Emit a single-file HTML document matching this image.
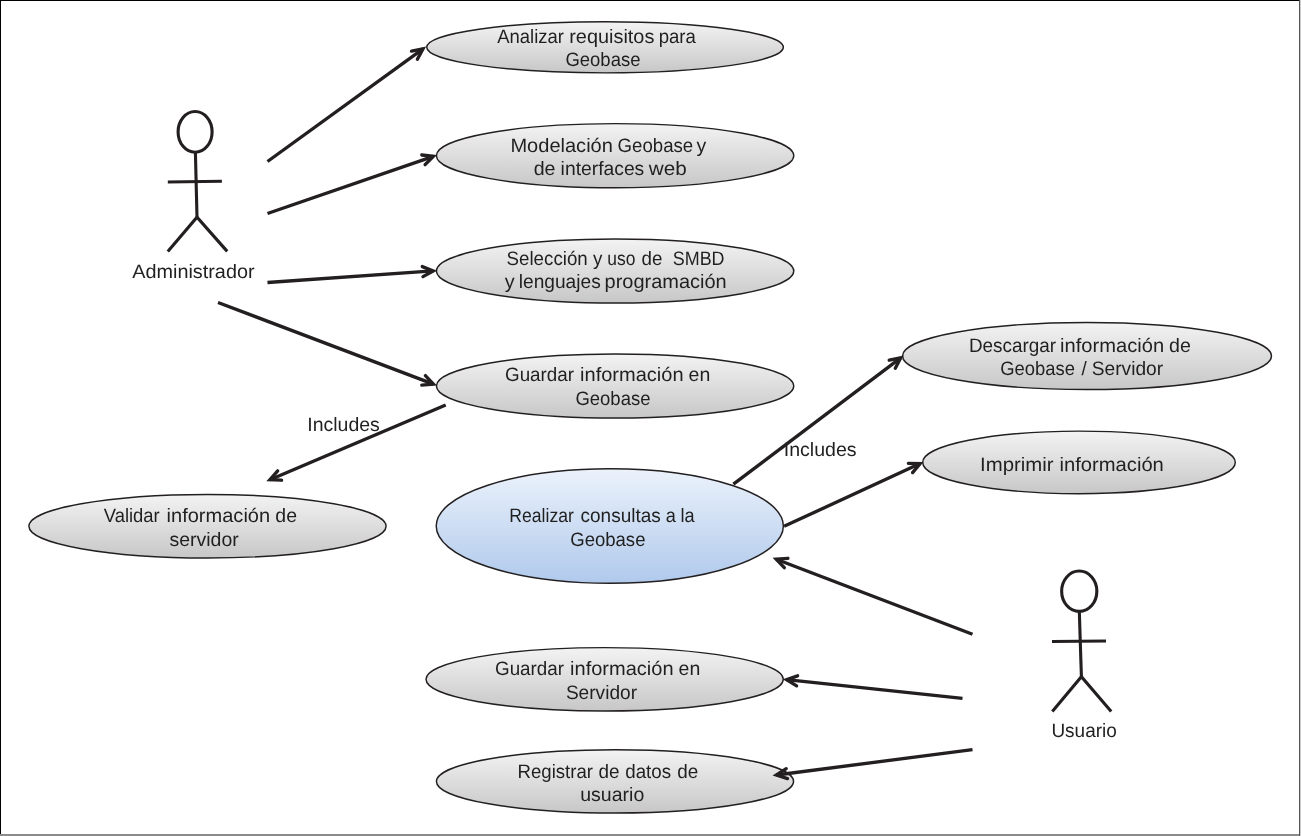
<!DOCTYPE html>
<html lang="es">
<head>
<meta charset="utf-8">
<title>Diagrama de casos de uso</title>
<style>
html,body{margin:0;padding:0;background:#fff;}
body{width:1301px;height:836px;overflow:hidden;position:relative;font-family:"Liberation Sans",sans-serif;}
svg{position:absolute;left:0;top:0;display:block;}
text{font-family:"Liberation Sans",sans-serif;font-size:19.4px;fill:#231f20;text-rendering:geometricPrecision;}
</style>
</head>
<body>
<svg width="1301" height="836" viewBox="0 0 1301 836">
<defs>
<linearGradient id="gg" x1="0" y1="0" x2="0" y2="1"><stop offset="0" stop-color="#f3f3f3"/><stop offset="1" stop-color="#c7c7c7"/></linearGradient>
<linearGradient id="gb" x1="0" y1="0" x2="0" y2="1"><stop offset="0" stop-color="#ebf2fb"/><stop offset="1" stop-color="#b0c9ec"/></linearGradient>
</defs>
<rect x="0" y="0" width="1301" height="836" fill="#fff"/>

<!-- frame -->
<rect x="0" y="0" width="1301" height="1" fill="#000"/>
<rect x="0" y="0" width="1" height="835" fill="#000"/>
<rect x="0" y="834" width="1301" height="2" fill="#8c8c8c"/>
<rect x="1299" y="0" width="1" height="836" fill="#555"/>
<rect x="1300" y="0" width="1" height="836" fill="#ccc"/>
<!-- use cases -->
<ellipse cx="605.05" cy="47.3" rx="178.33" ry="25.58" fill="url(#gg)" stroke="#231f20" stroke-width="1.45"/>
<ellipse cx="615.1" cy="155.7" rx="178.68" ry="32.08" fill="url(#gg)" stroke="#231f20" stroke-width="1.45"/>
<ellipse cx="615.1" cy="271.0" rx="178.68" ry="32.08" fill="url(#gg)" stroke="#231f20" stroke-width="1.45"/>
<ellipse cx="615.1" cy="386.0" rx="178.68" ry="32.08" fill="url(#gg)" stroke="#231f20" stroke-width="1.45"/>
<ellipse cx="207.5" cy="526.2" rx="178.58" ry="31.78" fill="url(#gg)" stroke="#231f20" stroke-width="1.45"/>
<ellipse cx="609.8" cy="526.0" rx="173.58" ry="57.28" fill="url(#gb)" stroke="#231f20" stroke-width="1.45"/>
<ellipse cx="1087.0" cy="356.0" rx="184.48" ry="33.58" fill="url(#gg)" stroke="#231f20" stroke-width="1.45"/>
<ellipse cx="1079.0" cy="462.4" rx="156.28" ry="31.28" fill="url(#gg)" stroke="#231f20" stroke-width="1.45"/>
<ellipse cx="604.65" cy="679.3" rx="178.63" ry="31.68" fill="url(#gg)" stroke="#231f20" stroke-width="1.45"/>
<ellipse cx="615.0" cy="781.4" rx="178.58" ry="31.68" fill="url(#gg)" stroke="#231f20" stroke-width="1.45"/>
<!-- arrows -->
<line x1="267.5" y1="161.5" x2="423.0" y2="48.9" stroke="#231f20" stroke-width="3.35" stroke-linecap="butt"/><polyline points="417.4,59.2 423.0,48.9 411.5,51.1" fill="none" stroke="#231f20" stroke-width="3.35" stroke-linecap="round" stroke-linejoin="miter"/>
<line x1="267.5" y1="213.5" x2="433.4" y2="156.3" stroke="#231f20" stroke-width="3.35" stroke-linecap="butt"/><polyline points="425.1,164.6 433.4,156.3 421.8,155.0" fill="none" stroke="#231f20" stroke-width="3.35" stroke-linecap="round" stroke-linejoin="miter"/>
<line x1="267.5" y1="282.5" x2="433.2" y2="270.9" stroke="#231f20" stroke-width="3.35" stroke-linecap="butt"/><polyline points="423.0,276.6 433.2,270.9 422.3,266.6" fill="none" stroke="#231f20" stroke-width="3.35" stroke-linecap="round" stroke-linejoin="miter"/>
<line x1="218.0" y1="302.5" x2="433.4" y2="384.1" stroke="#231f20" stroke-width="3.35" stroke-linecap="butt"/><polyline points="421.8,385.1 433.4,384.1 425.4,375.6" fill="none" stroke="#231f20" stroke-width="3.35" stroke-linecap="round" stroke-linejoin="miter"/>
<line x1="445.7" y1="405.0" x2="269.9" y2="479.7" stroke="#231f20" stroke-width="3.35" stroke-linecap="butt"/><polyline points="277.7,470.9 269.9,479.7 281.6,480.2" fill="none" stroke="#231f20" stroke-width="3.35" stroke-linecap="round" stroke-linejoin="miter"/>
<line x1="733.4" y1="484.2" x2="900.7" y2="357.9" stroke="#231f20" stroke-width="3.35" stroke-linecap="butt"/><polyline points="895.3,368.3 900.7,357.9 889.2,360.2" fill="none" stroke="#231f20" stroke-width="3.35" stroke-linecap="round" stroke-linejoin="miter"/>
<line x1="784.1" y1="526.3" x2="920.1" y2="463.6" stroke="#231f20" stroke-width="3.35" stroke-linecap="butt"/><polyline points="912.6,472.6 920.1,463.6 908.4,463.4" fill="none" stroke="#231f20" stroke-width="3.35" stroke-linecap="round" stroke-linejoin="miter"/>
<line x1="972.5" y1="634.3" x2="776.2" y2="559.2" stroke="#231f20" stroke-width="3.35" stroke-linecap="butt"/><polyline points="787.9,558.3 776.2,559.2 784.3,567.7" fill="none" stroke="#231f20" stroke-width="3.35" stroke-linecap="round" stroke-linejoin="miter"/>
<line x1="962.5" y1="698.4" x2="786.6" y2="679.6" stroke="#231f20" stroke-width="3.35" stroke-linecap="butt"/><polyline points="797.6,675.8 786.6,679.6 796.6,685.8" fill="none" stroke="#231f20" stroke-width="3.35" stroke-linecap="round" stroke-linejoin="miter"/>
<line x1="972.5" y1="749.6" x2="776.4" y2="775.0" stroke="#231f20" stroke-width="3.35" stroke-linecap="butt"/><polyline points="786.2,768.7 776.4,775.0 787.5,778.6" fill="none" stroke="#231f20" stroke-width="3.35" stroke-linecap="round" stroke-linejoin="miter"/>
<!-- actors -->
<g fill="none" stroke="#231f20" stroke-width="3.1" stroke-linecap="butt"><ellipse cx="195.1" cy="131.9" rx="17.0" ry="20.4" fill="#fff"/><line x1="195.4" y1="152.0" x2="197.0" y2="217.2"/><line x1="167.8" y1="182.0" x2="221.9" y2="181.3"/><polyline points="167.8,251.4 197.0,217.2 227.2,251.4"/></g>
<g fill="none" stroke="#231f20" stroke-width="3.1" stroke-linecap="butt"><ellipse cx="1079.25" cy="591.2" rx="17.6" ry="20.2" fill="#fff"/><line x1="1079.3" y1="611.0" x2="1081.4" y2="676.7"/><line x1="1052.0" y1="641.5" x2="1106.0" y2="641.0"/><polyline points="1052.3,711.5 1081.4,676.7 1111.2,711.5"/></g>
<!-- labels -->
<g style="filter:grayscale(1)">
<text y="43"><tspan x="497.22" textLength="66.68" lengthAdjust="spacingAndGlyphs">Analizar</tspan> <tspan x="569.24" textLength="85.11" lengthAdjust="spacingAndGlyphs">requisitos</tspan> <tspan x="658.67" textLength="37.23" lengthAdjust="spacingAndGlyphs">para</tspan></text>
<text y="66"><tspan x="565.44" textLength="75.00" lengthAdjust="spacingAndGlyphs">Geobase</tspan></text>
<text y="152"><tspan x="510.45" textLength="102.42" lengthAdjust="spacingAndGlyphs">Modelación</tspan> <tspan x="617.58" textLength="75.58" lengthAdjust="spacingAndGlyphs">Geobase</tspan> <tspan x="696.57" textLength="9.76" lengthAdjust="spacingAndGlyphs">y</tspan></text>
<text y="175"><tspan x="533.66" textLength="21.80" lengthAdjust="spacingAndGlyphs">de</tspan> <tspan x="560.61" textLength="83.67" lengthAdjust="spacingAndGlyphs">interfaces</tspan> <tspan x="648.79" textLength="37.99" lengthAdjust="spacingAndGlyphs">web</tspan></text>
<text y="265"><tspan x="506.57" textLength="81.16" lengthAdjust="spacingAndGlyphs">Selección</tspan> <tspan x="593.10" textLength="9.39" lengthAdjust="spacingAndGlyphs">y</tspan> <tspan x="607.25" textLength="28.13" lengthAdjust="spacingAndGlyphs">uso</tspan> <tspan x="641.51" textLength="20.88" lengthAdjust="spacingAndGlyphs">de</tspan> <tspan x="672.81" textLength="51.76" lengthAdjust="spacingAndGlyphs">SMBD</tspan></text>
<text y="288"><tspan x="504.74" textLength="9.89" lengthAdjust="spacingAndGlyphs">y</tspan> <tspan x="518.75" textLength="81.97" lengthAdjust="spacingAndGlyphs">lenguajes</tspan> <tspan x="604.56" textLength="122.14" lengthAdjust="spacingAndGlyphs">programación</tspan></text>
<text y="381"><tspan x="505.03" textLength="69.01" lengthAdjust="spacingAndGlyphs">Guardar</tspan> <tspan x="580.05" textLength="103.51" lengthAdjust="spacingAndGlyphs">información</tspan> <tspan x="688.60" textLength="21.71" lengthAdjust="spacingAndGlyphs">en</tspan></text>
<text y="405"><tspan x="575.44" textLength="75.00" lengthAdjust="spacingAndGlyphs">Geobase</tspan></text>
<text y="431"><tspan x="307.28" textLength="72.55" lengthAdjust="spacingAndGlyphs">Includes</tspan></text>
<text y="522"><tspan x="103.75" textLength="55.93" lengthAdjust="spacingAndGlyphs">Validar</tspan> <tspan x="166.56" textLength="103.58" lengthAdjust="spacingAndGlyphs">información</tspan> <tspan x="275.30" textLength="21.68" lengthAdjust="spacingAndGlyphs">de</tspan></text>
<text y="546"><tspan x="169.45" textLength="69.27" lengthAdjust="spacingAndGlyphs">servidor</tspan></text>
<text y="522"><tspan x="509.32" textLength="64.56" lengthAdjust="spacingAndGlyphs">Realizar</tspan> <tspan x="580.54" textLength="80.21" lengthAdjust="spacingAndGlyphs">consultas</tspan> <tspan x="665.69" textLength="10.11" lengthAdjust="spacingAndGlyphs">a</tspan> <tspan x="680.55" textLength="14.13" lengthAdjust="spacingAndGlyphs">la</tspan></text>
<text y="546"><tspan x="570.24" textLength="75.21" lengthAdjust="spacingAndGlyphs">Geobase</tspan></text>
<text y="352"><tspan x="968.88" textLength="87.21" lengthAdjust="spacingAndGlyphs">Descargar</tspan> <tspan x="1060.11" textLength="104.08" lengthAdjust="spacingAndGlyphs">información</tspan> <tspan x="1168.97" textLength="21.83" lengthAdjust="spacingAndGlyphs">de</tspan></text>
<text y="375"><tspan x="1000.25" textLength="74.70" lengthAdjust="spacingAndGlyphs">Geobase</tspan> <tspan x="1081.42" textLength="5.26" lengthAdjust="spacingAndGlyphs">/</tspan> <tspan x="1091.82" textLength="71.31" lengthAdjust="spacingAndGlyphs">Servidor</tspan></text>
<text y="456"><tspan x="783.73" textLength="72.91" lengthAdjust="spacingAndGlyphs">Includes</tspan></text>
<text y="471"><tspan x="980.07" textLength="73.53" lengthAdjust="spacingAndGlyphs">Imprimir</tspan> <tspan x="1059.55" textLength="104.30" lengthAdjust="spacingAndGlyphs">información</tspan></text>
<text y="737"><tspan x="1051.43" textLength="65.38" lengthAdjust="spacingAndGlyphs">Usuario</tspan></text>
<text y="675"><tspan x="495.03" textLength="69.01" lengthAdjust="spacingAndGlyphs">Guardar</tspan> <tspan x="570.05" textLength="103.51" lengthAdjust="spacingAndGlyphs">información</tspan> <tspan x="678.60" textLength="21.71" lengthAdjust="spacingAndGlyphs">en</tspan></text>
<text y="699"><tspan x="565.88" textLength="71.18" lengthAdjust="spacingAndGlyphs">Servidor</tspan></text>
<text y="778"><tspan x="517.56" textLength="75.44" lengthAdjust="spacingAndGlyphs">Registrar</tspan> <tspan x="598.53" textLength="21.04" lengthAdjust="spacingAndGlyphs">de</tspan> <tspan x="625.25" textLength="45.90" lengthAdjust="spacingAndGlyphs">datos</tspan> <tspan x="677.21" textLength="21.04" lengthAdjust="spacingAndGlyphs">de</tspan></text>
<text y="801"><tspan x="580.25" textLength="63.99" lengthAdjust="spacingAndGlyphs">usuario</tspan></text>
<text y="278"><tspan x="132.28" textLength="122.27" lengthAdjust="spacingAndGlyphs">Administrador</tspan></text>
</g>
</svg>
</body>
</html>
